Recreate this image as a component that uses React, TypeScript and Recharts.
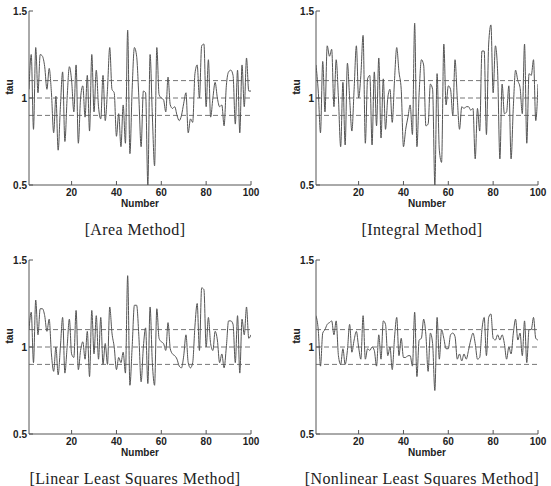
import { LineChart, Line, XAxis, YAxis, ReferenceLine } from "recharts";

// sample index (x axis)
const numbers = Array.from({ length: 100 }, (_, i) => i + 1);

const xTicks = [20, 40, 60, 80, 100];
const yTicks = [0.5, 1, 1.5];
const bandLines = [0.9, 1, 1.1];

const areaTau = [
  1.05, 1.25, 0.82, 1.29, 1.03, 1.25, 1.24, 1.18, 1.05, 1.17,
  1.03, 0.8, 1.01, 0.7, 0.95, 1.15, 0.75, 1.0, 1.18, 1.1,
  0.92, 1.19, 0.74, 1.0, 1.07, 0.89, 1.13, 0.81, 1.25, 0.92,
  1.16, 0.95, 0.88, 1.13, 0.87, 1.05, 1.29, 1.05, 1.03, 0.78,
  0.91, 0.72, 0.96, 0.74, 1.39, 0.68, 1.05, 1.29, 1.24, 1.0,
  0.72, 1.04, 1.03, 0.5, 1.25, 0.9, 0.61, 1.29, 1.02, 1.0,
  0.99, 0.92, 1.12, 0.96, 0.94, 0.95, 0.9, 0.87, 0.9, 0.97,
  1.03, 0.8, 0.88, 0.86, 1.14, 1.19, 1.0, 1.3, 1.31, 0.95,
  1.22, 0.89, 1.0, 1.09, 1.0, 0.95, 0.96, 0.84, 1.07, 1.15,
  1.16, 1.13, 0.85, 1.16, 0.8, 1.19, 0.95, 1.23, 1.04, 1.04,
];

const integralTau = [
  1.19, 1.04, 0.8, 1.21, 0.92, 1.3, 1.24, 1.28, 0.95, 1.22,
  1.0, 0.72, 1.09, 0.73, 1.2, 1.0, 0.81, 1.05, 1.3, 1.0,
  1.13, 1.36, 0.74, 1.11, 1.13, 0.73, 1.15, 0.84, 1.23, 0.77,
  1.11, 0.82, 1.0, 1.05, 0.86, 1.1, 1.29, 1.15, 1.05, 0.72,
  0.82, 0.89, 0.96, 0.79, 1.43, 0.72, 1.03, 1.22, 1.19, 0.84,
  0.85, 1.08, 1.05, 0.5, 1.14, 0.7, 0.63, 1.31, 0.96, 1.07,
  1.05, 0.9, 1.22, 1.0, 0.82, 0.95, 0.94, 0.95, 0.95, 0.93,
  0.94, 0.65, 0.94, 0.81, 1.27, 1.27, 0.79, 1.31, 1.42, 1.03,
  1.3, 1.15, 0.65, 1.08, 0.91, 0.92, 1.07, 0.65, 0.95, 1.16,
  1.1, 1.06, 0.91, 1.31, 0.74, 1.14, 1.13, 1.22, 0.87, 1.08,
];

const linearTau = [
  1.1, 1.2, 0.91, 1.27, 1.07, 1.22, 1.22, 1.18, 1.09, 1.16,
  0.96, 0.86, 1.0, 0.84, 1.0, 1.17, 0.85, 1.0, 1.16, 0.96,
  0.94, 1.21, 0.87, 0.98, 1.03, 0.93, 1.09, 0.83, 1.21, 0.96,
  1.18, 0.93, 1.17, 0.9, 1.02, 0.9, 1.23, 1.08, 1.0, 0.87,
  0.94, 0.91, 0.97, 0.85, 1.41, 0.78, 1.0, 1.24, 1.24, 1.06,
  0.8, 1.0, 1.11, 0.79, 1.23, 0.91, 0.78, 1.22, 1.05, 1.03,
  1.02, 0.98, 1.14, 0.99, 0.96, 0.95, 0.93, 0.89, 0.88, 0.95,
  1.07, 0.91, 0.88, 0.91, 1.12, 1.25, 0.98, 1.34, 1.33, 1.0,
  1.17, 1.02, 0.98, 1.09, 1.04, 0.91, 0.96, 0.88, 1.0, 1.15,
  1.15, 1.13, 0.91, 1.18, 0.85, 1.16, 1.07, 1.23, 1.05, 1.07,
];

const nonlinearTau = [
  1.18, 1.1, 0.89, 1.08, 1.1, 1.13, 1.14, 1.15, 1.07, 1.15,
  0.95, 0.9, 0.99, 0.9, 0.98, 1.13, 0.97, 1.04, 1.09, 1.0,
  0.93, 1.18, 0.93, 0.99, 0.98, 1.0, 0.98, 0.89, 1.07, 0.93,
  1.15, 1.13, 0.95, 1.0, 0.87, 1.05, 1.17, 0.95, 1.05, 0.94,
  0.94, 0.95, 0.95, 0.89, 1.2, 0.83, 1.04, 1.05, 1.16, 1.07,
  0.86, 1.08, 1.02, 0.75, 1.17, 0.93, 1.1, 1.05, 0.99, 0.99,
  1.07, 1.08, 1.06, 0.93, 0.96, 0.92, 0.96, 0.93, 0.98, 1.04,
  1.08, 1.02, 0.93, 0.94, 1.1, 1.17, 0.95, 1.17, 1.19, 1.05,
  1.04, 1.07, 1.04, 1.07, 1.02, 0.93, 1.0, 0.96, 1.08, 1.16,
  1.04, 1.08, 0.95, 1.15, 0.91, 1.1, 1.1, 1.17, 1.05, 1.04,
];

const SANS = "'Liberation Sans', Arial, sans-serif";
const SERIF = "'Liberation Serif', 'DejaVu Serif', serif";
const AXIS = "#555";
const tickStyle = { fontSize: 10, fontWeight: 700, fill: "#222", fontFamily: SANS };

interface PanelProps {
  values: number[];
  left: number;
  top: number;
  caption: string;
}

const Panel = ({ values, left, top, caption }: PanelProps) => {
  const data = numbers.map((n, i) => ({ n, tau: values[i] }));
  return (
    <>
      <div style={{ position: "absolute", left, top }}>
        <LineChart width={260} height={210} data={data} margin={{ top: 11, right: 9, left: 0, bottom: 0 }}>
          <XAxis
            dataKey="n"
            type="number"
            domain={[1, 100]}
            ticks={xTicks}
            tick={tickStyle}
            tickSize={-4}
            tickMargin={8}
            height={25}
            stroke={AXIS}
            allowDataOverflow
          />
          <XAxis
            xAxisId="top"
            orientation="top"
            dataKey="n"
            type="number"
            domain={[1, 100]}
            ticks={xTicks}
            tickFormatter={() => ""}
            tickSize={-4}
            height={0}
            stroke={AXIS}
          />
          <YAxis
            type="number"
            domain={[0.5, 1.5]}
            ticks={yTicks}
            tick={tickStyle}
            tickSize={-4}
            tickMargin={6}
            width={29}
            stroke={AXIS}
            allowDataOverflow
          />
          <YAxis
            yAxisId="right"
            orientation="right"
            type="number"
            domain={[0.5, 1.5]}
            ticks={yTicks}
            tickFormatter={() => ""}
            tickSize={-4}
            width={0}
            stroke={AXIS}
          />
          {bandLines.map((y) => (
            <ReferenceLine key={y} y={y} stroke="#777" strokeDasharray="5 3" strokeWidth={1} />
          ))}
          <Line
            type="monotone"
            dataKey="tau"
            stroke="#555"
            strokeWidth={1}
            dot={false}
            isAnimationActive={false}
          />
        </LineChart>
      </div>
      <div
        style={{
          position: "absolute", left: left - 10, top: top + 81, width: 40, height: 12,
          lineHeight: "12px", textAlign: "center", transform: "rotate(-90deg)",
          fontFamily: SANS, fontSize: 10, fontWeight: 700, color: "#222",
        }}
      >
        tau
      </div>
      <div
        style={{
          position: "absolute", left: left + 100, top: top + 198, width: 80, height: 12,
          lineHeight: "12px", textAlign: "center",
          fontFamily: SANS, fontSize: 10, fontWeight: 700, color: "#222",
        }}
      >
        Number
      </div>
      <div
        style={{
          position: "absolute", left: left - 25, top: top + 220, width: 320, height: 20,
          lineHeight: "20px", textAlign: "center", letterSpacing: "0.4px",
          fontFamily: SERIF, fontSize: 16, color: "#222", whiteSpace: "nowrap",
        }}
      >
        {caption}
      </div>
    </>
  );
};

export default function App() {
  return (
    <div style={{ position: "absolute", left: 0, top: 0, width: 551, height: 486, background: "#fff", overflow: "hidden" }}>
      <Panel values={areaTau} left={0} top={0} caption="[Area Method]" />
      <Panel values={integralTau} left={287} top={0} caption="[Integral Method]" />
      <Panel values={linearTau} left={0} top={249} caption="[Linear Least Squares Method]" />
      <Panel values={nonlinearTau} left={287} top={249} caption="[Nonlinear Least Squares Method]" />
    </div>
  );
}
